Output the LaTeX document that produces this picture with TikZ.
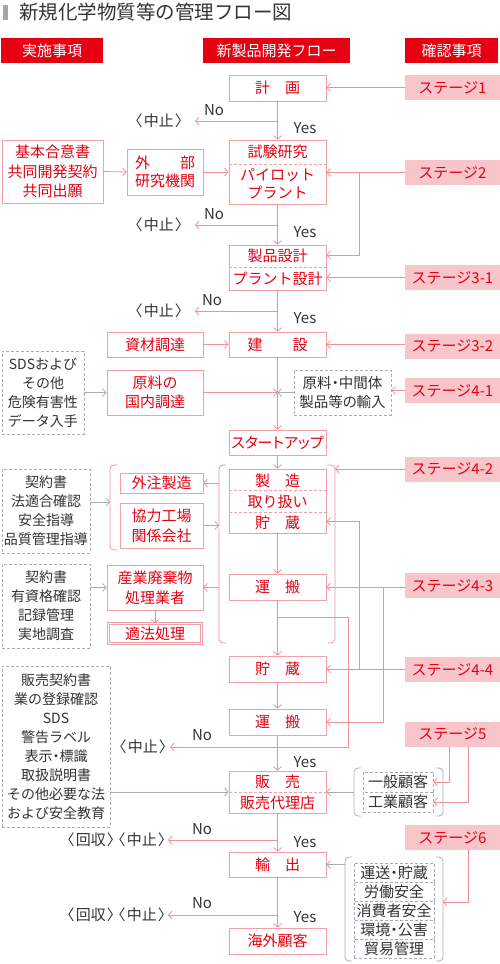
\documentclass[tikz,border=0pt]{standalone}
\usepackage{fontspec}
\setmainfont{Noto Sans CJK JP}
\newfontfamily\paltfont[RawFeature=+palt]{Noto Sans CJK JP}
\usetikzlibrary{arrows.meta}
\definecolor{hdrred}{HTML}{E50012}
\definecolor{rtxt}{HTML}{E60012}
\definecolor{bline}{HTML}{F2A0A8}
\definecolor{pline}{HTML}{EF8F99}
\definecolor{stfill}{HTML}{F8C5CB}
\definecolor{gline}{HTML}{A5ADB7}
\definecolor{dtxt}{HTML}{333333}
\definecolor{tbar}{HTML}{A2A8B0}
\newcommand{\stoptxt}{〈\kern1.5pt 中止\kern1.5pt 〉}
\newcommand{\recalltxt}{〈\kern1.5pt 回収\kern1.5pt 〉\kern3pt〈\kern1.5pt 中止\kern1.5pt 〉}
\tikzset{
  rb/.style={draw=bline, line width=0.8pt, fill=white, text=rtxt, inner sep=0pt, align=center, font=\fontsize{15pt}{19.5pt}\selectfont},
  gb/.style={draw=gline, line width=0.8pt, dash pattern=on 3pt off 2pt, fill=white, text=dtxt, inner sep=0pt, align=center, font=\fontsize{14pt}{19pt}\selectfont},
  st/.style={fill=stfill, text=rtxt, inner sep=0pt, font=\fontsize{15pt}{18pt}\selectfont, minimum width=95pt, minimum height=25pt},
  hd/.style={fill=hdrred, text=white, inner sep=0pt, font=\fontsize{15pt}{18pt}\selectfont, minimum height=25pt},
  tx/.style={inner sep=0pt, text=rtxt, align=center, font=\fontsize{15pt}{18pt}\selectfont},
  lab/.style={inner sep=0pt, text=dtxt, font=\fontsize{15pt}{18pt}\selectfont},
  stoplab/.style={lab, anchor=east, font=\paltfont\fontsize{15pt}{18pt}\selectfont},
  pl/.style={draw=pline, line width=0.8pt},
  gl/.style={draw=gline, line width=0.8pt},
  arr/.style={-{Straight Barb[length=3.5pt,width=8pt]}},
  sep/.style={draw=bline, line width=0.8pt, dash pattern=on 3pt off 2pt},
  mb/.style={rb, minimum width=97pt},
}
\begin{document}
\begin{tikzpicture}[x=1pt,y=-1pt]
\useasboundingbox (0,0) rectangle (500,964);
% title
\fill[tbar] (3,5) rectangle (8,20);
\node[anchor=west, inner sep=0pt, text=dtxt, font=\fontsize{19.5pt}{22pt}\selectfont] (title) at (19,12.5) {新規化学物質等の管理フロー図};
% headers
\node[hd, minimum width=102pt] (h1) at (52,50.5) {実施事項};
\node[hd, minimum width=147pt] (h2) at (276.5,50.5) {新製品開発フロー};
\node[hd, minimum width=93pt] (h3) at (451.5,50.5) {確認事項};
% main flow boxes
\node[mb, minimum height=26pt] (plan) at (277.5,88) {計　画};
\node[mb, minimum height=64pt] (trial) at (277.5,172) {};
\draw[sep] ([yshift=8pt]trial.west) -- ([yshift=8pt]trial.east);
\node[tx] (trialA) at (277.5,152) {試験研究};
\node[tx] (trialB) at (277.5,184) {パイロット\\プラント};
\node[mb, minimum height=45pt] (design) at (277.5,267.5) {};
\draw[sep] (design.west) -- (design.east);
\node[tx] (designA) at (277.5,256) {製品設計};
\node[tx] (designB) at (277.5,279) {プラント設計};
\node[mb, minimum height=25pt] (build) at (277.5,344.5) {建　　設};
\node[mb, minimum height=25pt] (startup) at (277.5,442.5) {\paltfont\fontsize{15pt}{15pt}\selectfont スタートアップ};
\node[mb, minimum height=64pt] (manu) at (277.5,501) {};
\draw[sep] ([yshift=11pt]manu.west) -- ([yshift=11pt]manu.east);
\draw[sep] ([yshift=-11pt]manu.west) -- ([yshift=-11pt]manu.east);
\node[tx] (manuA) at (277.5,480.5) {製　造};
\node[tx] (manuB) at (277.5,501.5) {取り扱い};
\node[tx] (manuC) at (277.5,522.5) {貯　蔵};
\node[mb, minimum height=26pt] (trans1) at (277.5,587) {運　搬};
\node[mb, minimum height=26pt] (stor2) at (277.5,669) {貯　蔵};
\node[mb, minimum height=26pt] (trans2) at (277.5,722) {運　搬};
\node[mb, minimum height=42pt] (sales) at (277.5,792) {};
\draw[sep] (sales.west) -- (sales.east);
\node[tx] (salesA) at (277.5,781.5) {販　売};
\node[tx] (salesB) at (277.5,802.5) {販売代理店};
\node[mb, minimum height=25pt] (export) at (277.5,864.5) {輸　出};
\node[mb, minimum height=26pt] (overseas) at (277.5,941) {海外顧客};
% left red boxes
\node[rb, minimum width=101pt, minimum height=63pt] (basic) at (52.5,171.5) {基本合意書\\共同開発契約\\共同出願};
\node[rb, minimum width=76pt, minimum height=46pt, font=\fontsize{15pt}{18pt}\selectfont] (ext) at (165,172) {外　　部\\研究機関};
\node[rb, minimum width=96pt, minimum height=25pt] (mat) at (155,344.5) {資材調達};
\node[rb, minimum width=96pt, minimum height=45pt] (rawdom) at (155,392.5) {原料の\\国内調達};
\node[rb, minimum width=83pt, minimum height=20pt] (outsrc) at (161.5,483) {外注製造};
\node[rb, minimum width=83pt, minimum height=45pt, font=\fontsize{15pt}{20pt}\selectfont] (partner) at (161.5,525.5) {協力工場\\関係会社};
\node[rb, minimum width=96pt, minimum height=45pt, font=\fontsize{15pt}{20pt}\selectfont] (waste) at (155,587.5) {産業廃棄物\\処理業者};
\node[rb, minimum width=93pt, minimum height=20pt, line width=0.6pt, double=white, double distance=1.4pt] (legal) at (155,633.5) {適法処理};
% gray boxes
\node[gb, minimum width=82pt, minimum height=83pt] (sds) at (43,392.5) {SDSおよび\\その他\\危険有害性\\データ入手};
\node[gb, minimum width=97pt, minimum height=45pt, font=\paltfont\fontsize{14.5pt}{19.5pt}\selectfont] (import) at (342.5,392.5) {原料・中間体\\製品等の輸入};
\node[gb, minimum width=88pt, minimum height=84pt] (con1) at (46,511) {契約書\\法適合確認\\安全指導\\品質管理指導};
\node[gb, minimum width=88pt, minimum height=84pt] (con2) at (46,606) {契約書\\有資格確認\\記録管理\\実地調査};
\node[gb, minimum width=108pt, minimum height=161pt] (sdoc) at (56,746.5) {販売契約書\\業の登録確認\\SDS\\警告ラベル\\表示{\paltfont ・}標識\\取扱説明書\\その他必要な法\\および安全教育};
\node[gb, minimum width=70pt, minimum height=20pt, font=\fontsize{15pt}{18pt}\selectfont] (gen) at (398,782) {一般顧客};
\node[gb, minimum width=70pt, minimum height=20pt, font=\fontsize{15pt}{18pt}\selectfont] (ind) at (398,802) {工業顧客};
\node[gb, minimum width=80pt, minimum height=19pt, font=\paltfont\fontsize{15pt}{18pt}\selectfont] (r1) at (394,872.5) {運送・貯蔵};
\node[gb, minimum width=80pt, minimum height=19pt, font=\fontsize{15pt}{18pt}\selectfont] (r2) at (394,891.5) {労働安全};
\node[gb, minimum width=80pt, minimum height=19pt, font=\fontsize{15pt}{18pt}\selectfont] (r3) at (394,910.5) {消費者安全};
\node[gb, minimum width=80pt, minimum height=19pt, font=\paltfont\fontsize{15pt}{18pt}\selectfont] (r4) at (394,929.5) {環境・公害};
\node[gb, minimum width=80pt, minimum height=19pt, font=\fontsize{15pt}{18pt}\selectfont] (r5) at (394,948.5) {貿易管理};
% stages
\node[st] (st1) at (452.5,87.5) {ステージ1};
\node[st] (st2) at (452.5,172.5) {ステージ2};
\node[st] (st31) at (452.5,277.5) {ステージ3-1};
\node[st] (st32) at (452.5,346) {ステージ3-2};
\node[st] (st41) at (452.5,390.5) {ステージ4-1};
\node[st] (st42) at (452.5,469) {ステージ4-2};
\node[st] (st43) at (452.5,585.5) {ステージ4-3};
\node[st] (st44) at (452.5,669.5) {ステージ4-4};
\node[st] (st5) at (452.5,734) {ステージ5};
\node[st] (st6) at (452.5,837.5) {ステージ6};
% brackets
\draw[pl, rounded corners=4pt] (226,465) -- (219,465) -- (219,643) -- (226,643);
\draw[pl, rounded corners=4pt] (328,465) -- (335,465) -- (335,643) -- (328,643);
\draw[pl, rounded corners=4pt] (117,465) -- (110,465) -- (110,550) -- (117,550);
\draw[gl, rounded corners=4pt] (361,768) -- (354,768) -- (354,816) -- (361,816);
\draw[gl, rounded corners=4pt] (436,768) -- (443,768) -- (443,816) -- (436,816);
\draw[gl, rounded corners=4pt] (352,857) -- (345,857) -- (345,961) -- (352,961);
\draw[gl, rounded corners=4pt] (436,857) -- (443,857) -- (443,961) -- (436,961);
% main connectors
\draw[pl,arr] (plan.south) -- (trial.north);
\draw[pl,arr] (trial.south) -- (design.north);
\draw[pl,arr] (design.south) -- (build.north);
\draw[pl,arr] (build.south) -- (startup.north);
\draw[pl,arr] (startup.south) -- (manu.north);
\draw[pl,arr] (manu.south) -- (trans1.north);
\draw[pl,arr] (trans1.south) -- (stor2.north);
\draw[pl,arr] (stor2.south) -- (trans2.north);
\draw[pl,arr] (trans2.south) -- (sales.north);
\draw[pl,arr] (sales.south) -- (export.north);
\draw[pl,arr] (export.south) -- (overseas.north);
% No branches
\coordinate (n1) at (277.5,121); \coordinate (t1) at (195,121);
\coordinate (n2) at (277.5,225); \coordinate (t2) at (195,225);
\coordinate (n3) at (277.5,311); \coordinate (t3) at (195,311);
\coordinate (n4) at (277.5,617); \coordinate (n4b) at (348,617); \coordinate (n4c) at (348,747); \coordinate (t4) at (170,747);
\coordinate (n5) at (277.5,840); \coordinate (t5) at (168,840);
\coordinate (n6) at (277.5,915); \coordinate (t6) at (168,915);
\draw[pl,arr] (n1) -- (t1);
\draw[pl,arr] (n2) -- (t2);
\draw[pl,arr] (n3) -- (t3);
\draw[pl,arr] (n4) -- (n4b) -- (n4c) -- (t4);
\draw[pl,arr] (n5) -- (t5);
\draw[pl,arr] (n6) -- (t6);
\node[stoplab] (stop1) at (183,121) {\stoptxt};
\node[stoplab] (stop2) at (183,225) {\stoptxt};
\node[stoplab] (stop3) at (183,311) {\stoptxt};
\node[stoplab] (stop4) at (167,747) {\stoptxt};
\node[stoplab] (stop5) at (166,840) {\recalltxt};
\node[stoplab] (stop6) at (166,915) {\recalltxt};
\node[lab] (no1) at (214,110) {No};
\node[lab] (no2) at (214,214) {No};
\node[lab] (no3) at (212,300) {No};
\node[lab] (no4) at (202,735) {No};
\node[lab] (no5) at (202,829) {No};
\node[lab] (no6) at (202,903) {No};
\node[lab] (yes1) at (305,128) {Yes};
\node[lab] (yes2) at (305,232) {Yes};
\node[lab] (yes3) at (305,318) {Yes};
\node[lab] (yes4) at (305,762) {Yes};
\node[lab] (yes5) at (305,842) {Yes};
\node[lab] (yes6) at (305,917) {Yes};
% left side connectors
\draw[pl,arr] (basic.east) -- (ext.west);
\draw[pl,arr] (ext.east) -- (trial.west |- ext.east);
\draw[pl,arr] (mat.east) -- (build.west);
\draw[gl,arr] (sds.east) -- (rawdom.west);
\coordinate (j41) at (277.5,392.5);
\draw[pl,arr] (rawdom.east) -- (j41);
\draw[gl,arr] (import.west) -- (j41);
\coordinate (bL1) at (219,483);
\coordinate (bL2) at (219,525.5);
\coordinate (bL3) at (219,587.5);
\coordinate (bS) at (110,502);
\draw[pl,arr] (bL1) -- (outsrc.east);
\draw[pl,arr] (partner.east) -- (bL2);
\draw[pl,arr] (bL3) -- (waste.east);
\draw[gl,arr] (con1.east |- bS) -- (bS);
\draw[gl,arr] (con2.east |- waste.west) -- (waste.west);
\draw[pl,arr] (waste.south) -- (legal.north);
\draw[gl,arr] (sdoc.east |- sales.west) -- (sales.west);
% stage connectors
\draw[pl,arr] (st1.west) -- (st1.west -| plan.east);
\draw[pl,arr] (st2.west) -- (st2.west -| trial.east);
\coordinate (j2) at (359,172.5);
\draw[pl,arr] (j2) |- ([yshift=12.5pt]design.east);
\draw[pl,arr] (st31.west) -- (st31.west -| design.east);
\draw[pl,arr] (st32.west |- build.east) -- (build.east);
\draw[pl,arr] (st41.west) -- (st41.west -| import.east);
\coordinate (bR) at (335,469);
\draw[pl,arr] (st42.west) -- (bR);
\draw[pl,arr] (st43.west |- trans1.east) -- (trans1.east);
\coordinate (j43) at (383,587);
\draw[pl,arr] (j43) |- (trans2.east);
\draw[pl,arr] (st44.west |- stor2.east) -- (stor2.east);
\coordinate (j44) at (359,669);
\draw[pl,arr] (j44) |- ([yshift=-20.5pt]manu.east);
\draw[pl,arr] ([xshift=-3.5pt]st5.south) |- (gen.east);
\draw[pl,arr] ([xshift=15.5pt]st5.south) |- (ind.east);
\coordinate (cbL) at (354,792);
\draw[gl,arr] (cbL) -- (sales.east |- cbL);
\coordinate (rbR) at (443,902);
\draw[pl,arr] ([xshift=15.5pt]st6.south) |- (rbR);
\coordinate (rbL) at (345,864.5);
\draw[gl,arr] (rbL) -- (export.east);
\end{tikzpicture}
\end{document}
